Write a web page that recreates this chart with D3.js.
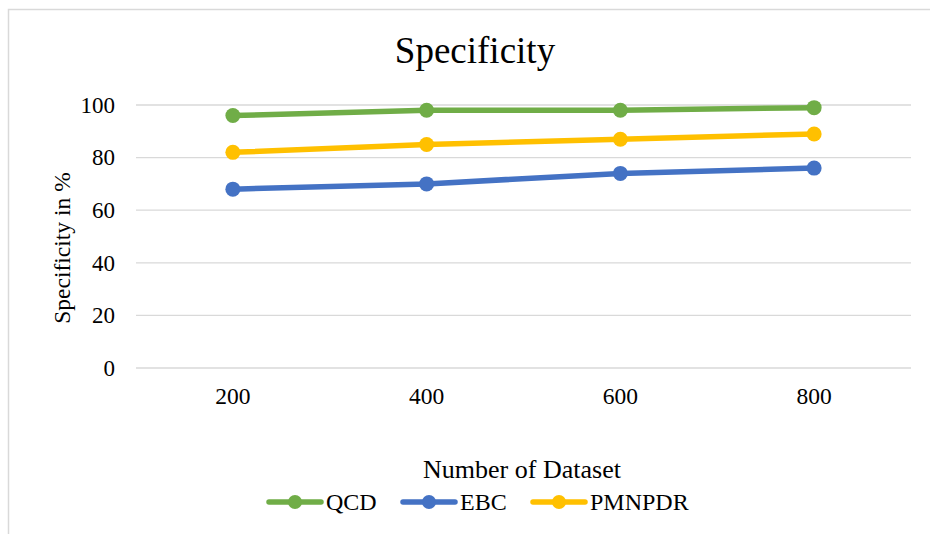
<!DOCTYPE html>
<html>
<head>
<meta charset="utf-8">
<script src="https://cdn.jsdelivr.net/npm/d3@7"></script>
<style>
  html, body { margin: 0; padding: 0; background: #fff; }
  svg text { font-family: "Liberation Serif", "Times New Roman", serif; fill: #000; }
</style>
</head>
<body>
<div id="chart"></div>
<script>
// 数据
const categories = ['200', '400', '600', '800'];
const yTicks = [0, 20, 40, 60, 80, 100];
const qcd = [96, 98, 98, 99];
const ebc = [68, 70, 74, 76];
const pmnpdr = [82, 85, 87, 89];

const series = [
  { name: 'QCD', values: qcd, color: '#70ad47' },
  { name: 'EBC', values: ebc, color: '#4472c4' },
  { name: 'PMNPDR', values: pmnpdr, color: '#ffc000' }
];

const W = 930, H = 534;
const plot = { left: 136, right: 911, top: 105, bottom: 368 };

const svg = d3.select('#chart')
  .append('svg')
  .attr('width', W)
  .attr('height', H);

// 外边框（左、上）
svg.append('path')
  .attr('d', `M8.5,${H} L8.5,9.5 L${W},9.5`)
  .attr('fill', 'none')
  .attr('stroke', '#d9d9d9')
  .attr('stroke-width', 1.5);

const x = d3.scaleBand()
  .domain(categories)
  .range([plot.left, plot.right]);

const y = d3.scaleLinear()
  .domain([0, 100])
  .range([plot.bottom, plot.top]);

// 网格线
svg.append('g')
  .selectAll('line')
  .data(yTicks)
  .enter()
  .append('line')
    .attr('x1', plot.left)
    .attr('x2', plot.right)
    .attr('y1', d => y(d))
    .attr('y2', d => y(d))
    .attr('stroke', '#d9d9d9')
    .attr('stroke-width', 1.3);

// y 轴刻度
const yAxis = svg.append('g')
  .attr('transform', `translate(${plot.left - 21},0)`)
  .call(d3.axisLeft(y).tickValues(yTicks).tickSize(0).tickPadding(0));
yAxis.attr('font-family', null);
yAxis.select('.domain').remove();
yAxis.selectAll('text')
  .style('font-size', '23px');

// x 轴刻度
const xAxis = svg.append('g')
  .attr('transform', `translate(0,${plot.bottom})`)
  .call(d3.axisBottom(x).tickSize(0).tickPadding(19));
xAxis.attr('font-family', null);
xAxis.select('.domain').remove();
xAxis.selectAll('text')
  .style('font-size', '23.5px');

// 折线与点
const line = d3.line()
  .x((d, i) => x(categories[i]) + x.bandwidth() / 2)
  .y(d => y(d));

series.forEach(s => {
  svg.append('path')
    .datum(s.values)
    .attr('fill', 'none')
    .attr('stroke', s.color)
    .attr('stroke-width', 5.5)
    .attr('stroke-linecap', 'round')
    .attr('d', line);

  svg.append('g')
    .selectAll('circle')
    .data(s.values)
    .enter()
    .append('circle')
      .attr('cx', (d, i) => x(categories[i]) + x.bandwidth() / 2)
      .attr('cy', d => y(d))
      .attr('r', 7.5)
      .attr('fill', s.color);
});

// 标题
svg.append('text')
  .attr('x', 475)
  .attr('y', 63)
  .attr('text-anchor', 'middle')
  .style('font-size', '37px')
  .text('Specificity');

// y 轴标题
svg.append('text')
  .attr('transform', 'rotate(-90)')
  .attr('x', -248)
  .attr('y', 70)
  .attr('text-anchor', 'middle')
  .style('font-size', '23.5px')
  .text('Specificity in %');

// x 轴标题
svg.append('text')
  .attr('x', 522)
  .attr('y', 478)
  .attr('text-anchor', 'middle')
  .style('font-size', '26px')
  .text('Number of Dataset');

// 图例
const legendX = [267, 401, 531];
const legend = svg.append('g');
series.forEach((s, i) => {
  const g = legend.append('g')
    .attr('transform', `translate(${legendX[i]},502)`);
  g.append('line')
    .attr('x1', 2).attr('x2', 54)
    .attr('y1', 0).attr('y2', 0)
    .attr('stroke', s.color)
    .attr('stroke-width', 5.5)
    .attr('stroke-linecap', 'round');
  g.append('circle')
    .attr('cx', 28).attr('cy', 0).attr('r', 7)
    .attr('fill', s.color);
  g.append('text')
    .attr('x', 59)
    .attr('y', 8)
    .style('font-size', '24px')
    .text(s.name);
});
</script>
</body>
</html>
